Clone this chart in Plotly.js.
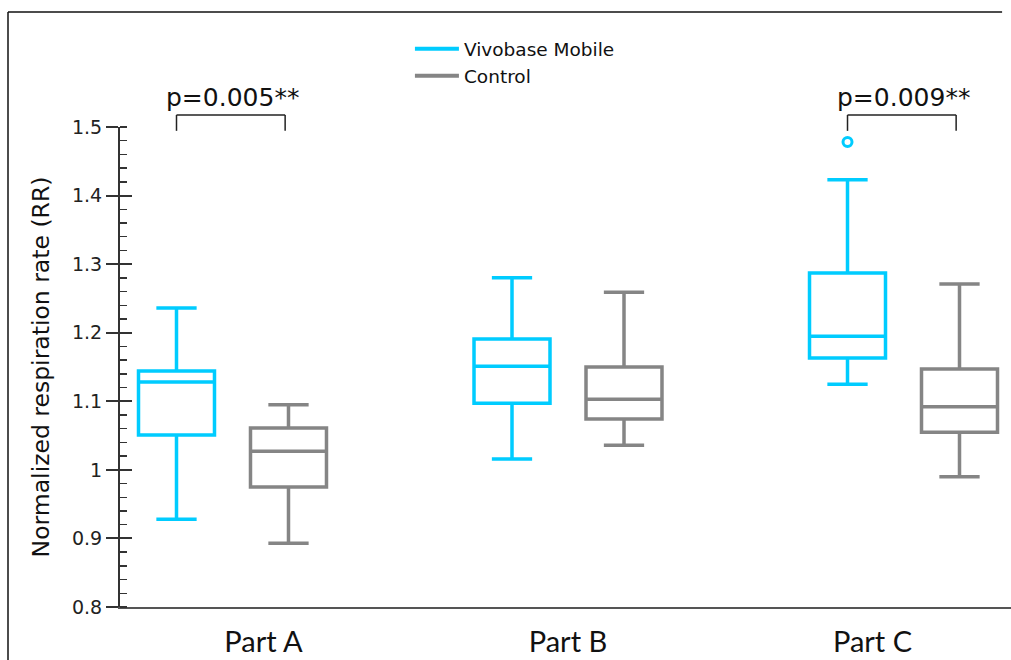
<!DOCTYPE html>
<html>
<head>
<meta charset="utf-8">
<script src="https://cdn.plot.ly/plotly-3.0.1.min.js"></script>
<style>html,body{margin:0;padding:0;background:#fff;overflow:hidden;}#chart{width:1011px;height:660px;}</style>
</head>
<body>
<div id="chart"></div>
<script>
// ---- data ----
const categories = ['Part A', 'Part B', 'Part C'];
const seriesNames = ['Vivobase Mobile', 'Control'];

const vivoUpper  = [1.236, 1.280, 1.423];
const vivoQ3     = [1.144, 1.191, 1.287];
const vivoMedian = [1.128, 1.151, 1.195];
const vivoQ1     = [1.051, 1.097, 1.163];
const vivoLower  = [0.928, 1.016, 1.125];

const ctrlUpper  = [1.095, 1.259, 1.271];
const ctrlQ3     = [1.061, 1.150, 1.147];
const ctrlMedian = [1.027, 1.103, 1.092];
const ctrlQ1     = [0.975, 1.074, 1.055];
const ctrlLower  = [0.893, 1.036, 0.990];

const vivoOutlierCategory = ['Part C'];
const vivoOutlierValue = [1.478];

const pLabels = ['p=0.005**', 'p=0.009**'];
const pCategories = ['Part A', 'Part C'];

const yTickVals = [0.8, 0.9, 1.0, 1.1, 1.2, 1.3, 1.4, 1.5];
const yTickText = ['0.8', '0.9', '1', '1.1', '1.2', '1.3', '1.4', '1.5'];

// ---- style ----
const CYAN = '#00ccff';
const GRAY = '#858585';
const OFF = 0.1669;   // half distance between paired boxes (x2 units)
const BW = 0.2265;    // box width (x2 units)
const idx = c => categories.indexOf(c);

const traces = [
  {
    type: 'box', name: seriesNames[0], xaxis: 'x2', yaxis: 'y2',
    x: categories.map(c => idx(c) - OFF),
    q1: vivoQ1, median: vivoMedian, q3: vivoQ3,
    lowerfence: vivoLower, upperfence: vivoUpper,
    width: BW, whiskerwidth: 0.53, boxpoints: false,
    line: {color: CYAN, width: 3.5}, fillcolor: 'rgba(0,0,0,0)',
    showlegend: false, hoverinfo: 'skip'
  },
  {
    type: 'box', name: seriesNames[1], xaxis: 'x2', yaxis: 'y2',
    x: categories.map(c => idx(c) + OFF),
    q1: ctrlQ1, median: ctrlMedian, q3: ctrlQ3,
    lowerfence: ctrlLower, upperfence: ctrlUpper,
    width: BW, whiskerwidth: 0.53, boxpoints: false,
    line: {color: GRAY, width: 3.5}, fillcolor: 'rgba(0,0,0,0)',
    showlegend: false, hoverinfo: 'skip'
  },
  {
    type: 'scatter', mode: 'markers', xaxis: 'x2', yaxis: 'y2',
    x: vivoOutlierCategory.map(c => idx(c) - OFF), y: vivoOutlierValue,
    marker: {symbol: 'circle-open', size: 9, color: CYAN, line: {color: CYAN, width: 3}},
    cliponaxis: false, showlegend: false, hoverinfo: 'skip'
  },
  {type: 'scatter', mode: 'lines', name: seriesNames[0], x: [null], y: [null],
   line: {color: CYAN, width: 4}},
  {type: 'scatter', mode: 'lines', name: seriesNames[1], x: [null], y: [null],
   line: {color: GRAY, width: 4}}
];

// brackets + p-value labels
const BR_TOP = 1.025, BR_BOT = 0.992;
const shapes = [];
const annotations = [];
pCategories.forEach((c, k) => {
  const i = idx(c);
  const xl = i - OFF, xr = i + OFF - 0.01;
  const st = {color: '#222', width: 1.5};
  shapes.push({type: 'line', xref: 'x2', yref: 'paper', x0: xl, x1: xl, y0: BR_BOT, y1: BR_TOP, line: st});
  shapes.push({type: 'line', xref: 'x2', yref: 'paper', x0: xl, x1: xr, y0: BR_TOP, y1: BR_TOP, line: st});
  shapes.push({type: 'line', xref: 'x2', yref: 'paper', x0: xr, x1: xr, y0: BR_BOT, y1: BR_TOP, line: st});
  annotations.push({xref: 'x2', yref: 'paper', x: i, y: 1.0615, text: pLabels[k],
    showarrow: false, xanchor: 'center', yanchor: 'middle',
    font: {family: 'DejaVu Sans', size: 25, color: '#111'}});
});
// outer frame: left and top edges only
const frame = {color: '#111', width: 1.5};
shapes.push({type: 'line', xref: 'paper', yref: 'paper', x0: -0.1257, x1: -0.1257, y0: -0.2, y1: 1.2396, line: frame});
shapes.push({type: 'line', xref: 'paper', yref: 'paper', x0: -0.1257, x1: 0.99, y0: 1.2396, y1: 1.2396, line: frame});

const layout = {
  width: 1011, height: 660,
  margin: {l: 120, r: 0, t: 127, b: 53},
  paper_bgcolor: '#fff', plot_bgcolor: '#fff',
  font: {family: 'DejaVu Sans', color: '#222'},
  showlegend: true,
  legend: {x: 0.3254, y: 1.2017, xanchor: 'left', yanchor: 'top', font: {size: 18.5, color: '#111'},
           itemwidth: 44, bgcolor: 'rgba(0,0,0,0)', tracegroupgap: 0},
  xaxis: {range: [-0.4713, 2.4548], tickmode: 'array', tickvals: categories.map(idx), ticktext: categories,
          showline: true, linecolor: '#555', linewidth: 2, ticks: '', showgrid: false, zeroline: false,
          ticklabelstandoff: 8, tickfont: {family: 'Lato', size: 29, color: '#111'}, fixedrange: true},
  xaxis2: {overlaying: 'x', range: [-0.3353, 2.3204], visible: false, fixedrange: true},
  yaxis: {range: [0.8, 1.5], tickmode: 'array', tickvals: yTickVals, ticktext: yTickText,
          ticks: 'outside', ticklen: 12, tickwidth: 2, tickcolor: '#333',
          showline: true, linecolor: '#333', linewidth: 2, showgrid: false, zeroline: false,
          minor: {ticks: 'inside', ticklen: 7, tickwidth: 1.5, tickcolor: '#333', dtick: 0.02, tick0: 0.8, showgrid: false},
          tickfont: {size: 19, color: '#222'},
          title: {text: 'Normalized respiration rate (RR)', font: {size: 23.5, color: '#111'}, standoff: 16},
          fixedrange: true},
  yaxis2: {overlaying: 'y', anchor: 'x', side: 'left', range: [0.8, 1.5], tickmode: 'array', tickvals: yTickVals,
           ticks: 'inside', ticklen: 12, tickwidth: 2, tickcolor: '#333', showticklabels: false,
           showline: false, showgrid: false, zeroline: false, fixedrange: true},
  shapes: shapes,
  annotations: annotations
};

Plotly.newPlot('chart', traces, layout, {displayModeBar: false, staticPlot: true});
</script>
</body>
</html>
